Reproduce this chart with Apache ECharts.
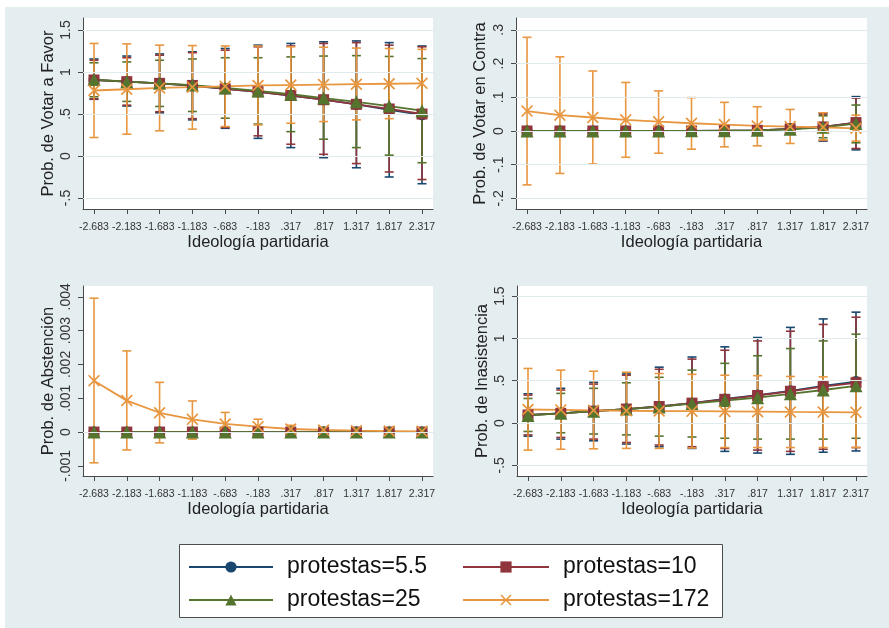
<!DOCTYPE html>
<html><head><meta charset="utf-8">
<script src="https://cdn.jsdelivr.net/npm/echarts@6/dist/echarts.min.js"></script>
<style>html,body{margin:0;padding:0;background:#fff;}#c{position:absolute;left:5px;top:7px;width:884px;height:621px;}</style>
</head><body><div id="c"></div>
<script>
// ---------- data ----------
const xValues = [-2.683,-2.183,-1.683,-1.183,-0.683,-0.183,0.317,0.817,1.317,1.817,2.317];
const xLabels = ['-2.683','-2.183','-1.683','-1.183','-.683','-.183','.317','.817','1.317','1.817','2.317'];
const seriesNames = ['protestas=5.5','protestas=10','protestas=25','protestas=172'];
const xTitle = 'Ideología partidaria';

// Panel 1: Prob. de Votar a Favor
const favor55    = [0.905,0.885,0.865,0.835,0.80,0.765,0.72,0.67,0.615,0.55,0.49];
const favor55Lo  = [0.675,0.595,0.515,0.43,0.33,0.21,0.10,-0.02,-0.14,-0.25,-0.33];
const favor55Hi  = [1.155,1.19,1.215,1.24,1.28,1.32,1.34,1.36,1.37,1.35,1.31];
const favor10    = [0.905,0.885,0.865,0.84,0.80,0.765,0.72,0.67,0.615,0.56,0.50];
const favor10Lo  = [0.68,0.605,0.527,0.445,0.34,0.24,0.14,0.02,-0.09,-0.19,-0.28];
const favor10Hi  = [1.14,1.17,1.20,1.23,1.26,1.30,1.31,1.34,1.35,1.32,1.30];
const favor25    = [0.91,0.885,0.865,0.845,0.81,0.775,0.735,0.69,0.645,0.595,0.54];
const favor25Lo  = [0.705,0.65,0.59,0.53,0.45,0.38,0.29,0.20,0.10,0.01,-0.08];
const favor25Hi  = [1.11,1.12,1.14,1.155,1.17,1.17,1.18,1.19,1.195,1.185,1.16];
const favor172   = [0.78,0.795,0.81,0.82,0.83,0.84,0.845,0.85,0.855,0.86,0.865];
const favor172Lo = [0.22,0.26,0.30,0.32,0.35,0.37,0.39,0.41,0.43,0.445,0.46];
const favor172Hi = [1.34,1.335,1.32,1.315,1.31,1.31,1.30,1.295,1.285,1.28,1.27];
const favorTicks = [-0.5,0,0.5,1,1.5];
const favorTickLabels = ['-.5','0','.5','1','1.5'];

// Panel 2: Prob. de Votar en Contra
const contra55    = [0,0,0,0,0,0,0.001,0.002,0.006,0.012,0.025];
const contra55Lo  = [0,0,0,0,0,0,0,-0.003,-0.008,-0.03,-0.056];
const contra55Hi  = [0,0,0,0,0,0,0.002,0.007,0.02,0.053,0.102];
const contra10    = [0,0,0,0,0,0,0.001,0.002,0.006,0.012,0.025];
const contra10Lo  = [0,0,0,0,0,0,0,-0.003,-0.008,-0.028,-0.052];
const contra10Hi  = [0,0,0,0,0,0,0.002,0.007,0.02,0.05,0.098];
const contra25    = [0,0,0,0,0,0.0005,0.001,0.002,0.005,0.011,0.022];
const contra25Lo  = [0,0,0,0,0,0,0,-0.002,-0.006,-0.02,-0.035];
const contra25Hi  = [0,0,0,0,0,0.001,0.002,0.006,0.017,0.045,0.077];
const contra172   = [0.059,0.047,0.040,0.033,0.0275,0.023,0.019,0.015,0.013,0.011,0.008];
const contra172Lo = [-0.16,-0.126,-0.098,-0.078,-0.066,-0.054,-0.047,-0.044,-0.037,-0.027,-0.03];
const contra172Hi = [0.278,0.22,0.178,0.144,0.119,0.099,0.085,0.072,0.064,0.054,0.047];
const contraTicks = [-0.2,-0.1,0,0.1,0.2,0.3];
const contraTickLabels = ['-.2','-.1','0','.1','.2','.3'];

// Panel 3: Prob. de Abstención
const abst55    = [0,0,0,0,0,0,0,0,0,0,0];
const abst55Lo  = [0,0,0,0,0,0,0,0,0,0,0];
const abst55Hi  = [0,0,0,0,0,0,0,0,0,0,0];
const abst10    = [0,0,0,0,0,0,0,0,0,0,0];
const abst10Lo  = [0,0,0,0,0,0,0,0,0,0,0];
const abst10Hi  = [0,0,0,0,0,0,0,0,0,0,0];
const abst25    = [0,0,0,0,0,0,0,0,0,0,0];
const abst25Lo  = [0,0,0,0,0,0,0,0,0,0,0];
const abst25Hi  = [0,0,0,0,0,0,0,0,0,0,0];
const abst172   = [0.00152,0.00093,0.00057,0.000375,0.00024,0.00016,0.00009,0.00006,0.00004,0.00003,0.00002];
const abst172Lo = [-0.00091,-0.00053,-0.00032,-0.00021,-0.00011,-0.00006,-0.00002,0,0,0,0];
const abst172Hi = [0.00396,0.0024,0.00147,0.00092,0.00058,0.00038,0.0002,0.00012,0.00008,0.00006,0.00004];
const abstTicks = [-0.001,0,0.001,0.002,0.003,0.004];
const abstTickLabels = ['-.001','0','.001','.002','.003','.004'];

// Panel 4: Prob. de Inasistencia
const inas55    = [0.095,0.115,0.14,0.165,0.195,0.235,0.285,0.33,0.38,0.44,0.49];
const inas55Lo  = [-0.155,-0.19,-0.21,-0.248,-0.28,-0.30,-0.335,-0.355,-0.37,-0.345,-0.33];
const inas55Hi  = [0.345,0.41,0.48,0.58,0.66,0.78,0.90,1.01,1.13,1.23,1.31];
const inas10    = [0.095,0.115,0.14,0.165,0.195,0.235,0.28,0.325,0.375,0.43,0.475];
const inas10Lo  = [-0.14,-0.17,-0.19,-0.23,-0.26,-0.28,-0.30,-0.32,-0.335,-0.31,-0.29];
const inas10Hi  = [0.33,0.39,0.46,0.565,0.635,0.755,0.86,0.97,1.085,1.165,1.25];
const inas25    = [0.09,0.115,0.14,0.165,0.19,0.23,0.265,0.30,0.345,0.39,0.44];
const inas25Lo  = [-0.10,-0.115,-0.13,-0.14,-0.155,-0.165,-0.18,-0.19,-0.19,-0.19,-0.18];
const inas25Hi  = [0.29,0.35,0.41,0.475,0.54,0.625,0.705,0.795,0.88,0.97,1.05];
const inas172   = [0.16,0.155,0.15,0.145,0.142,0.14,0.137,0.134,0.131,0.129,0.126];
const inas172Lo = [-0.32,-0.31,-0.305,-0.30,-0.30,-0.295,-0.29,-0.29,-0.29,-0.29,-0.29];
const inas172Hi = [0.645,0.625,0.612,0.60,0.585,0.575,0.565,0.56,0.55,0.545,0.54];
const inasTicks = [-0.5,0,0.5,1,1.5];
const inasTickLabels = ['-.5','0','.5','1','1.5'];

// ---------- styling ----------
const FONT = '"Liberation Sans", Arial, sans-serif';
const colors = ['#1a476f','#90353b','#55752f','#e8963f'];
const xSymbol = 'path://M1,0L5,4L9,0L10,1L6,5L10,9L9,10L5,6L1,10L0,9L4,5L0,1Z';
const symbols = ['circle','rect','triangle',xSymbol];
const symbolSizes = [11,11,13,12];
const OX = 5, OY = 7; // chart div offset on page

const panels = [
  {title:'Prob. de Votar a Favor', box:[83,18,433,209], yr:[-0.631,1.643], ticks:favorTicks, labels:favorTickLabels, gap:26,
   s:[[favor55,favor55Lo,favor55Hi],[favor10,favor10Lo,favor10Hi],[favor25,favor25Lo,favor25Hi],[favor172,favor172Lo,favor172Hi]]},
  {title:'Prob. de Votar en Contra', box:[516,18,867,209], yr:[-0.2315,0.3353], ticks:contraTicks, labels:contraTickLabels, gap:27,
   s:[[contra55,contra55Lo,contra55Hi],[contra10,contra10Lo,contra10Hi],[contra25,contra25Lo,contra25Hi],[contra172,contra172Lo,contra172Hi]]},
  {title:'Prob. de Abstención', box:[83,286,433,476], yr:[-0.0013,0.00432], ticks:abstTicks, labels:abstTickLabels, gap:26,
   s:[[abst55,abst55Lo,abst55Hi],[abst10,abst10Lo,abst10Hi],[abst25,abst25Lo,abst25Hi],[abst172,abst172Lo,abst172Hi]]},
  {title:'Prob. de Inasistencia', box:[517,286,867,476], yr:[-0.626,1.619], ticks:inasTicks, labels:inasTickLabels, gap:26,
   s:[[inas55,inas55Lo,inas55Hi],[inas10,inas10Lo,inas10Hi],[inas25,inas25Lo,inas25Hi],[inas172,inas172Lo,inas172Hi]]}
];

const xPad = 0.1677;
function lookup(ticks, labels){
  return function(v){ const i = ticks.findIndex(t => Math.abs(t - v) < 1e-9); return i >= 0 ? labels[i] : ''; };
}
function renderCI(params, api){
  const x = api.value(0), lo = api.value(1), hi = api.value(2);
  const a = api.coord([x, lo]), b = api.coord([x, hi]);
  const w = 4.5;
  const st = {stroke: api.visual('color'), lineWidth: 1.6, fill: null};
  return {type:'group', children:[
    {type:'line', shape:{x1:a[0],y1:a[1],x2:b[0],y2:b[1]}, style:st},
    {type:'line', shape:{x1:a[0]-w,y1:a[1],x2:a[0]+w,y2:a[1]}, style:st},
    {type:'line', shape:{x1:b[0]-w,y1:b[1],x2:b[0]+w,y2:b[1]}, style:st}
  ]};
}

const grid = [], xAxis = [], yAxis = [], series = [];
const axisColor = '#4a4a4a';
panels.forEach((p, gi) => {
  const [x0,y0,x1,y1] = p.box;
  grid.push({left:x0-OX, top:y0-OY, width:x1-x0, height:y1-y0, show:true, backgroundColor:'#ffffff', borderWidth:0, containLabel:false});
  xAxis.push({type:'value', gridIndex:gi, min:xValues[0]-xPad, max:xValues[xValues.length-1]+xPad,
    name:xTitle, nameLocation:'middle', nameGap:22,
    nameTextStyle:{fontFamily:FONT, fontSize:16.5, color:'#222'},
    axisLine:{show:true, onZero:false, lineStyle:{color:axisColor, width:1}},
    axisTick:{show:true, inside:false, length:5, customValues:xValues, lineStyle:{color:axisColor}},
    axisLabel:{customValues:xValues, margin:13, fontFamily:FONT, fontSize:10.5, color:'#333', formatter:lookup(xValues, xLabels)},
    splitLine:{show:false}});
  yAxis.push({type:'value', gridIndex:gi, min:p.yr[0], max:p.yr[1],
    name:p.title, nameLocation:'middle', nameGap:p.gap,
    nameTextStyle:{fontFamily:FONT, fontSize:16.5, color:'#222'},
    axisLine:{show:true, onZero:false, lineStyle:{color:axisColor, width:1}},
    axisTick:{show:true, inside:false, length:5, customValues:p.ticks, lineStyle:{color:axisColor}},
    axisLabel:{customValues:p.ticks, rotate:90, margin:10, fontFamily:FONT, fontSize:14, color:'#333', formatter:lookup(p.ticks, p.labels)},
    splitLine:{show:false}});
  // gridlines
  series.push({type:'line', name:'grid'+gi, xAxisIndex:gi, yAxisIndex:gi, data:[], z:1, silent:true,
    markLine:{silent:true, symbol:['none','none'], label:{show:false}, animation:false,
      lineStyle:{color:'#e1ebee', type:'solid', width:1.2},
      data:p.ticks.map(v => ({yAxis:v}))}});
  // confidence intervals
  p.s.forEach((arr, si) => {
    series.push({type:'custom', name:'ci'+gi+'_'+si, xAxisIndex:gi, yAxisIndex:gi, z:2,
      itemStyle:{color:colors[si]}, renderItem:renderCI, silent:true,
      encode:{x:0, y:[1,2]},
      data:xValues.map((x,i) => [x, arr[1][i], arr[2][i]])});
  });
  // estimate lines with markers
  p.s.forEach((arr, si) => {
    series.push({type:'line', name:seriesNames[si], xAxisIndex:gi, yAxisIndex:gi, z:3,
      symbol:symbols[si], symbolSize:symbolSizes[si], showSymbol:true,
      lineStyle:{color:colors[si], width:1.8},
      itemStyle:{color:colors[si], borderWidth:0},
      data:xValues.map((x,i) => [x, arr[0][i]])});
  });
});

const legendText = {fontFamily:FONT, fontSize:23, color:'#111', padding:[0,0,0,9], lineHeight:26};
const option = {
  backgroundColor:'#e4eef1',
  animation:false,
  color:colors,
  grid, xAxis, yAxis, series,
  graphic:{elements:[{type:'rect', left:179-OX, top:544-OY, shape:{width:543, height:73},
    style:{fill:'#ffffff', stroke:'#4d4d4d', lineWidth:1}, z:0}]},
  legend:[
    {data:[seriesNames[0], seriesNames[2]], orient:'vertical', left:188-OX, top:554-OY, padding:0,
     itemWidth:84, itemHeight:14, itemGap:7, selectedMode:false, textStyle:legendText},
    {data:[seriesNames[1], seriesNames[3]], orient:'vertical', left:462-OX, top:554-OY, padding:0,
     itemWidth:86, itemHeight:14, itemGap:7, selectedMode:false, textStyle:legendText}
  ]
};
const chart = echarts.init(document.getElementById('c'), null, {renderer:'canvas'});
chart.setOption(option);
</script></body></html>
